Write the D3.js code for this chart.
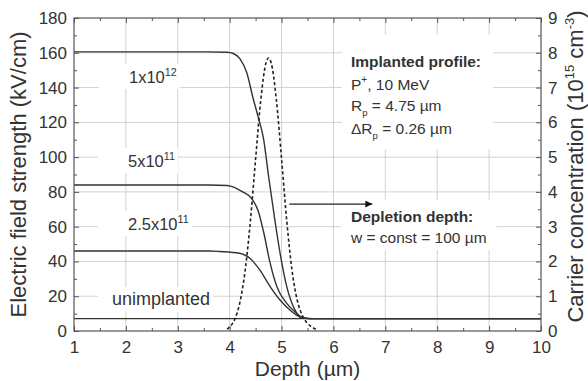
<!DOCTYPE html>
<html><head><meta charset="utf-8">
<script src="https://cdn.jsdelivr.net/npm/d3@7"></script>
<style>
html,body{margin:0;padding:0;background:#fff;}
svg{display:block;font-family:Arial,"Liberation Sans",sans-serif;}
</style></head>
<body><svg id="chart" width="588" height="381"></svg>
<script>
// ---------- data ----------
const depthTicks = [1,2,3,4,5,6,7,8,9,10];
const fieldTicks = [0,20,40,60,80,100,120,140,160,180];
const concTicks = [0,1,2,3,4,5,6,7,8,9];

// electric field strength (kV/cm) vs depth (µm)
const field1e12 = [[1,160.5],[3.6,160.5],[3.95,160.3],[4.07,159.6],[4.2,156.5],[4.33,148.5],[4.45,134],[4.55,123],[4.65,111],[4.75,89],[4.87,64],[4.97,45],[5.1,25.5],[5.26,12],[5.35,8.2],[5.45,7.3],[5.6,7.1],[10,7.1]];
const field5e11 = [[1,84],[3.6,84],[3.95,83.7],[4.1,82.5],[4.25,80],[4.42,76.3],[4.55,69],[4.65,57.5],[4.78,39],[4.91,25.5],[5.1,15.9],[5.29,10.2],[5.35,8.6],[5.45,7.4],[5.6,7.1],[10,7.1]];
const field25e11 = [[1,46],[3.6,46],[3.81,45.7],[4.19,44.7],[4.39,41.8],[4.58,35.1],[4.78,25.5],[4.97,17.8],[5.16,12.1],[5.35,8.2],[5.45,7.4],[5.6,7.1],[10,7.1]];
const fieldUnimplanted = [[1,7.1],[10,7.1]];
// carrier concentration (1e15 cm^-3) vs depth (µm)
const concentration = [[3.95,0.05],[4.0,0.12],[4.1,0.34],[4.2,0.84],[4.3,1.76],[4.4,3.17],[4.5,4.95],[4.6,6.65],[4.7,7.71],[4.75,7.85],[4.8,7.71],[4.9,6.65],[5.0,4.95],[5.1,3.17],[5.2,1.76],[5.3,0.9],[5.4,0.45],[5.5,0.22],[5.6,0.1],[5.66,0.05]];

// ---------- layout ----------
const svg = d3.select("#chart");
const L = 74, T = 18, R = 541, B = 331;
const x = d3.scaleLinear([1,10],[L,R]);
const y = d3.scaleLinear([0,180],[B,T]);
const y2 = d3.scaleLinear([0,9],[B,T]);
const ink = "#333";
const fs = 17;

// grid
const grid = svg.append("g").attr("stroke","#d2d2d2").attr("stroke-width",1);
depthTicks.slice(1,-1).forEach(d=>grid.append("line").attr("x1",x(d)).attr("x2",x(d)).attr("y1",T).attr("y2",B));
fieldTicks.slice(1,-1).forEach(v=>grid.append("line").attr("x1",L).attr("x2",R).attr("y1",y(v)).attr("y2",y(v)));

const boxLayer = svg.append("g");
const curveLayer = svg.append("g");
const textLayer = svg.append("g").attr("fill",ink);

// curves
const lineF = d3.line().x(d=>x(d[0])).y(d=>y(d[1])).curve(d3.curveMonotoneX);
const lineC = d3.line().x(d=>x(d[0])).y(d=>y2(d[1])).curve(d3.curveMonotoneX);
[field1e12, field5e11, field25e11, fieldUnimplanted].forEach(s=>{
  curveLayer.append("path").attr("d",lineF(s)).attr("fill","none").attr("stroke",ink).attr("stroke-width",1.4);
});
curveLayer.append("path").attr("d",lineC(concentration)).attr("fill","none").attr("stroke","#222")
  .attr("stroke-width",1.6).attr("stroke-dasharray","3.2,2.4");

// arrow
svg.append("defs").append("marker").attr("id","ah").attr("viewBox","0 0 10 10").attr("refX",10).attr("refY",5)
  .attr("markerWidth",9).attr("markerHeight",7).attr("markerUnits","userSpaceOnUse").attr("orient","auto")
  .append("path").attr("d","M0,0L10,5L0,10Z").attr("fill","#111");
curveLayer.append("line").attr("x1",x(5.15)).attr("x2",x(6.75)).attr("y1",y2(3.65)).attr("y2",y2(3.65))
  .attr("stroke","#222").attr("stroke-width",1.3).attr("marker-end","url(#ah)");

// axes
function styleAxis(g){ g.select(".domain").remove(); g.selectAll("line").attr("stroke","#555");
  g.selectAll("text").attr("font-size",fs).attr("fill",ink).attr("font-family",'Arial,"Liberation Sans",sans-serif'); }
const minorX = d3.range(1.5,10,1);
const minorY = d3.range(10,180,20);
const minorY2 = d3.range(0.5,9,1);
svg.append("g").attr("transform",`translate(0,${B})`).call(d3.axisBottom(x).tickValues(depthTicks).tickFormat(d3.format("d")).tickSizeInner(-5).tickSizeOuter(0).tickPadding(10)).call(styleAxis);
svg.append("g").attr("transform",`translate(0,${B})`).call(d3.axisBottom(x).tickValues(minorX).tickFormat("").tickSizeInner(-3).tickSizeOuter(0)).call(styleAxis);
svg.append("g").attr("transform",`translate(0,${T})`).call(d3.axisTop(x).tickValues(depthTicks).tickFormat("").tickSizeInner(-5).tickSizeOuter(0)).call(styleAxis);
svg.append("g").attr("transform",`translate(0,${T})`).call(d3.axisTop(x).tickValues(minorX).tickFormat("").tickSizeInner(-3).tickSizeOuter(0)).call(styleAxis);
svg.append("g").attr("transform",`translate(${L},0)`).call(d3.axisLeft(y).tickValues(fieldTicks).tickSizeInner(-5).tickSizeOuter(0).tickPadding(7)).call(styleAxis);
svg.append("g").attr("transform",`translate(${L},0)`).call(d3.axisLeft(y).tickValues(minorY).tickFormat("").tickSizeInner(-3).tickSizeOuter(0)).call(styleAxis);
svg.append("g").attr("transform",`translate(${R},0)`).call(d3.axisRight(y2).tickValues(concTicks).tickSizeInner(-5).tickSizeOuter(0).tickPadding(7)).call(styleAxis);
svg.append("g").attr("transform",`translate(${R},0)`).call(d3.axisRight(y2).tickValues(minorY2).tickFormat("").tickSizeInner(-3).tickSizeOuter(0)).call(styleAxis);
svg.append("rect").attr("x",L).attr("y",T).attr("width",R-L).attr("height",B-T).attr("fill","none").attr("stroke","#555").attr("stroke-width",1.2);

// axis titles
svg.append("text").attr("transform",`translate(26,${(T+B)/2}) rotate(-90)`).attr("text-anchor","middle")
  .attr("font-size",22).attr("fill",ink).text("Electric field strength (kV/cm)");
svg.append("text").attr("x",(L+R)/2).attr("y",376).attr("text-anchor","middle").attr("font-size",21).attr("fill",ink).text("Depth (µm)");
const rt = svg.append("text").attr("transform",`translate(583,${(T+B)/2 - 8}) rotate(-90)`).attr("text-anchor","middle")
  .attr("font-size",22).attr("fill",ink);
rt.append("tspan").text("Carrier concentration (10");
rt.append("tspan").attr("font-size",13).attr("dy",-9).text("15");
rt.append("tspan").attr("dy",9).text(" cm");
rt.append("tspan").attr("font-size",13).attr("dy",-9).text("-3");
rt.append("tspan").attr("dy",9).text(")");

// labels with white background
function label(parts, xx, yy, size, bold){
  const t = textLayer.append("text").attr("x",xx).attr("y",yy).attr("font-size",size).attr("font-weight",bold?"bold":"normal");
  parts.forEach(p=>{
    const s = t.append("tspan").text(p.t);
    if(p.sup){ s.attr("font-size",size*0.65).attr("dy",-7); }
    else if(p.sub){ s.attr("font-size",size*0.62).attr("dy",5); }
    else if(p.back){ s.attr("dy",p.back); }
  });
  return t;
}
function boxFor(nodes, pl, pr, pt, pb){
  let x0=1e9,y0=1e9,x1=-1e9,y1=-1e9;
  nodes.forEach(n=>{const b=n.node().getBBox(); x0=Math.min(x0,b.x); y0=Math.min(y0,b.y); x1=Math.max(x1,b.x+b.width); y1=Math.max(y1,b.y+b.height);});
  boxLayer.append("rect").attr("x",x0-pl).attr("y",y0-pt).attr("width",x1-x0+pl+pr).attr("height",y1-y0+pt+pb).attr("fill","#fff");
}
const l1 = label([{t:"1x10"},{t:"12",sup:1}],129,83,16.5);
const l2 = label([{t:"5x10"},{t:"11",sup:1}],128,167,16.5);
const l3 = label([{t:"2.5x10"},{t:"11",sup:1}],128,230,16.5);
const l4 = label([{t:"unimplanted"}],112,305,18);
[l1,l2,l3].forEach(l=>boxFor([l],30,3,2,3));
boxFor([l4],14,3,2,3);

const a1 = label([{t:"Implanted profile:"}],351,67,15.5,true);
const a2 = label([{t:"P"},{t:"+",sup:1},{t:", 10 MeV",back:7}],351,90,15.5);
const a3 = label([{t:"R"},{t:"p",sub:1},{t:" = 4.75 µm",back:-5}],351,111,15.5);
const a4 = label([{t:"ΔR"},{t:"p",sub:1},{t:" = 0.26 µm",back:-5}],351,134,15.5);
boxFor([a1,a2,a3,a4],9,12,18,8);
const b1 = label([{t:"Depletion depth:"}],351,222,15.5,true);
const b2 = label([{t:"w = const = 100 µm"}],351,243,15.5);
boxFor([b1,b2],9,10,8,4);
</script></body></html>
